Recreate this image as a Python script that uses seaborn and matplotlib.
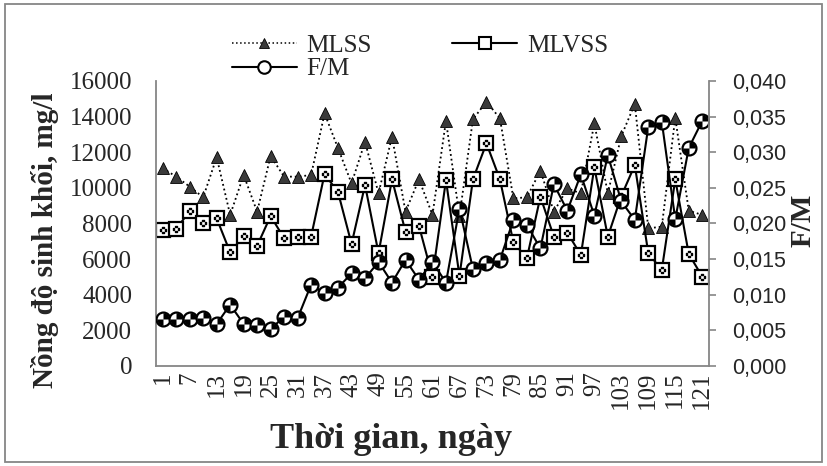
import matplotlib
matplotlib.use('Agg')

import matplotlib.pyplot as plt
import numpy as np
import pandas as pd
import seaborn as sns
from matplotlib.path import Path
from matplotlib.patches import Rectangle
from matplotlib.lines import Line2D
from matplotlib.ticker import FuncFormatter

# ngay lay mau (moi 3 ngay)
days = [1, 4, 7, 10, 13, 16, 19, 22, 25, 28, 31, 34, 37, 40, 43, 46, 49, 52, 55, 58,
        61, 64, 67, 70, 73, 76, 79, 82, 85, 88, 91, 94, 97, 100, 103, 106, 109, 112, 115, 118, 121]
tick_days = [1, 7, 13, 19, 25, 31, 37, 43, 49, 55, 61, 67, 73, 79, 85, 91, 97, 103, 109, 115, 121]

mlss = [11100, 10630, 10070, 9470, 11720, 8480, 10720, 8660, 11790, 10630,
        10630, 10720, 14180, 12220, 10250, 12590, 9690, 12880, 8660, 10480,
        8480, 13770, 8420, 13850, 14840, 13900, 9410, 9470, 10960, 8660,
        9970, 9690, 13620, 9690, 12910, 14710, 7730, 7820, 13940, 8720, 8480]

mlvss = [7640, 7690, 8700, 8010, 8290, 6380, 7300, 6750, 8420, 7170,
         7260, 7260, 10780, 9750, 6850, 10160, 6330, 10480, 7540, 7860,
         5020, 10440, 5050, 10480, 12500, 10480, 6940, 6050, 9500, 7260,
         7480, 6230, 11150, 7260, 9540, 11280, 6330, 5390, 10480, 6290, 5020]

fm = [0.0066, 0.0066, 0.0066, 0.0068, 0.0059, 0.0086, 0.0059, 0.0058, 0.0052, 0.0069,
      0.0067, 0.0114, 0.0102, 0.0110, 0.0130, 0.0123, 0.0146, 0.0117, 0.0149, 0.0121,
      0.0146, 0.0117, 0.0221, 0.0136, 0.0144, 0.0149, 0.0205, 0.0198, 0.0165, 0.0255,
      0.0218, 0.0269, 0.0211, 0.0296, 0.0231, 0.0205, 0.0336, 0.0343, 0.0206, 0.0306, 0.0344]

df = pd.DataFrame({'day': days, 'MLSS': mlss, 'MLVSS': mlvss, 'FM': fm})

sns.set_style('white')
plt.rcParams['font.family'] = ['Liberation Serif', 'DejaVu Serif']

fig = plt.figure(figsize=(8.27, 4.66), dpi=100)
ax = fig.add_axes([0.1886, 0.2146, 0.6687, 0.6116])
ax2 = ax.twinx()

grey = '#868686'

# MLSS - duong cham, tam giac
sns.lineplot(data=df, x='day', y='MLSS', ax=ax, color='black', linestyle=':', linewidth=1.3,
             marker='^', markersize=9, markerfacecolor='#3a3a3a', markeredgecolor='black',
             markeredgewidth=0.6)
# MLVSS - duong lien, hinh vuong
sns.lineplot(data=df, x='day', y='MLVSS', ax=ax, color='black', linewidth=1.5,
             marker='s', markersize=10, markerfacecolor='white', markeredgecolor='black',
             markeredgewidth=1.6)
# cham nho trong hinh vuong
ax.plot(df['day'], df['MLVSS'], linestyle='none', marker='$\u2058$', markersize=5, color='black')

# F/M - truc phu
sns.lineplot(data=df, x='day', y='FM', ax=ax2, color='black', linewidth=1.5,
             marker='o', markersize=10, markerfacecolor='white', markeredgecolor='black',
             markeredgewidth=1.6)
quad = Path.make_compound_path(Path.wedge(0, 90), Path.wedge(180, 270))
ax2.plot(df['day'], df['FM'], linestyle='none', marker=quad, markersize=9,
         markerfacecolor='black', markeredgecolor='black', markeredgewidth=0)

ax.set_xlim(days[0] - 1.5, days[-1] + 1.5)
ax.set_ylim(0, 16000)
ax2.set_ylim(0, 0.04)
ax.set_yticks(np.arange(0, 16001, 2000))
ax2.set_yticks(np.arange(0, 0.0401, 0.005))
ax.set_xticks(tick_days)
ax.set_xticklabels([str(d) for d in tick_days], rotation=90)

ax.set_xlabel('')
ax.set_ylabel('')
ax2.set_ylabel('')

ax2.yaxis.set_major_formatter(FuncFormatter(lambda v, p: f'{v:.3f}'.replace('.', ',')))

ax.tick_params(axis='x', length=0, labelsize=18, pad=4)
ax.tick_params(axis='y', length=0, labelsize=18, pad=17)
ax2.tick_params(axis='y', length=5, width=1.2, color=grey, direction='out', labelsize=15.5, pad=12)
for lab in ax2.get_yticklabels():
    lab.set_family(['Liberation Sans', 'DejaVu Sans'])

for a in (ax, ax2):
    a.spines['top'].set_visible(False)
    for s in ('left', 'right', 'bottom'):
        a.spines[s].set_color(grey)
        a.spines[s].set_linewidth(1.3)
ax.spines['right'].set_visible(False)
ax2.spines['left'].set_visible(False)
ax2.spines['bottom'].set_visible(False)
ax.grid(False)
ax2.grid(False)

fig.text(0.054, 0.485, 'Nồng độ sinh khối, mg/l', rotation=90, ha='center', va='center',
         fontsize=21, fontweight='bold')
fig.text(0.971, 0.528, 'F/M', rotation=90, ha='center', va='center',
         fontsize=21, fontweight='bold')
fig.text(0.473, 0.056, 'Thời gian, ngày', ha='center', va='center',
         fontsize=26, fontweight='bold')

# chu giai
h_mlss = Line2D([], [], color='black', linestyle=':', linewidth=1.1, marker='^', markersize=7,
                markerfacecolor='#3a3a3a', markeredgecolor='black', markeredgewidth=0.6)
h_mlvss = Line2D([], [], color='black', linewidth=1.5, marker='s', markersize=9,
                 markerfacecolor='white', markeredgecolor='black', markeredgewidth=1.5)
h_fm = Line2D([], [], color='black', linewidth=1.5, marker='o', markersize=9,
              markerfacecolor='white', markeredgecolor='black', markeredgewidth=1.5)
leg = fig.legend([h_mlss, h_fm, h_mlvss], ['MLSS', 'F/M', 'MLVSS'], ncol=2,
                 loc='upper left', bbox_to_anchor=(0.268, 0.948), frameon=False,
                 fontsize=18, handlelength=2.6, handletextpad=0.4, columnspacing=3.2,
                 labelspacing=0.05, borderaxespad=0)

fig.patches.append(Rectangle((0.006, 0.008), 0.988, 0.984, transform=fig.transFigure,
                             fill=False, edgecolor=grey, linewidth=1.3))

fig.savefig('out.png', dpi=100)
